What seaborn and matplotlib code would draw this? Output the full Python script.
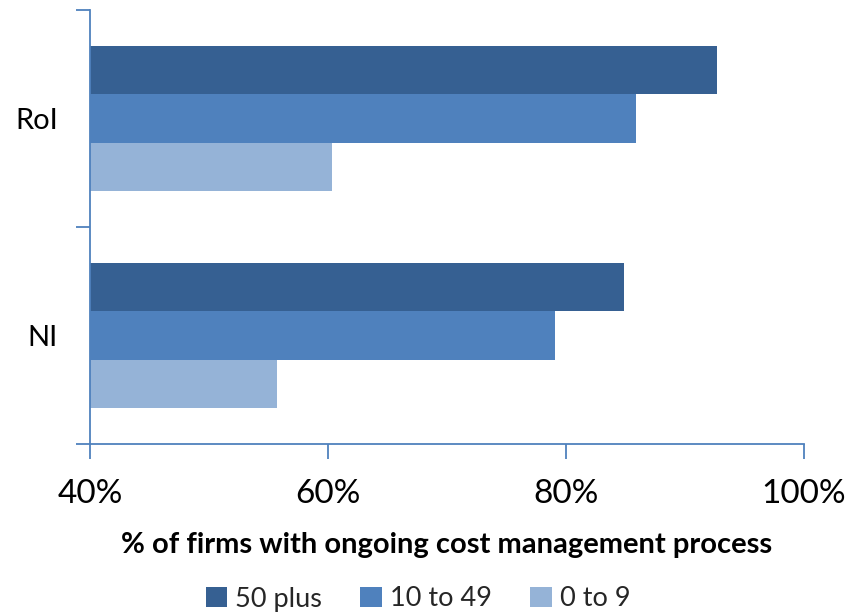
import matplotlib
matplotlib.use("Agg")
import matplotlib.pyplot as plt
import seaborn as sns
import pandas as pd
from matplotlib.ticker import FixedLocator, FuncFormatter

regions = ["RoI", "NI"]
size_bands = ["50 plus", "10 to 49", "0 to 9"]
share_50_plus = [92.7, 84.9]
share_10_to_49 = [85.9, 79.1]
share_0_to_9 = [60.3, 55.7]
x_ticks = [40, 60, 80, 100]

palette = ["#366092", "#4F81BD", "#95B3D7"]
axis_blue = "#4F81BD"

df = pd.DataFrame({
    "region": regions * 3,
    "band": [b for b in size_bands for _ in regions],
    "share": share_50_plus + share_10_to_49 + share_0_to_9,
})

sns.set_theme(style="white")
plt.rcParams["font.family"] = ["Lato", "DejaVu Sans"]

fig = plt.figure(figsize=(8.61, 6.12), dpi=100)
ax = fig.add_axes([90 / 861, (612 - 444) / 612, (804 - 90) / 861, (444 - 10) / 612])

sns.barplot(data=df, y="region", x="share", hue="band", order=regions,
            hue_order=size_bands, palette=palette, orient="h", width=0.664,
            saturation=1, linewidth=0, ax=ax, legend=True)

ax.set_xlim(40, 100)
ax.set_ylim(1.5, -0.5)
ax.xaxis.set_major_locator(FixedLocator(x_ticks))
ax.xaxis.set_major_formatter(FuncFormatter(lambda v, p: f"{v:.0f}%"))

for s in ["top", "right"]:
    ax.spines[s].set_visible(False)
for s in ["left", "bottom"]:
    ax.spines[s].set_color(axis_blue)
    ax.spines[s].set_linewidth(1.3)

# category labels without marks; boundary ticks between categories
ax.yaxis.set_minor_locator(FixedLocator([-0.5, 0.5, 1.5]))
ax.tick_params(axis="y", which="major", length=0, labelsize=21, pad=23, colors="black")
ax.tick_params(axis="y", which="minor", left=True, length=10, width=1.3, color=axis_blue)
ax.tick_params(axis="x", which="major", bottom=True, length=11, width=1.3, color=axis_blue,
               labelsize=24, labelcolor="black", pad=14)

ax.set_ylabel("")
ax.set_xlabel("% of firms with ongoing cost management process", fontsize=21,
              fontweight="bold", labelpad=17, color="black")

ax.get_legend().remove()
handles, labels = ax.get_legend_handles_labels()
fig.legend(handles, labels, loc="center", ncol=3, frameon=False,
           bbox_to_anchor=(418 / 861, 1 - 599 / 612), fontsize=19.5, handlelength=0.8,
           handleheight=0.8, handletextpad=0.3, columnspacing=1.4,
           borderaxespad=0, borderpad=0)

fig.savefig("out.png", dpi=100)
